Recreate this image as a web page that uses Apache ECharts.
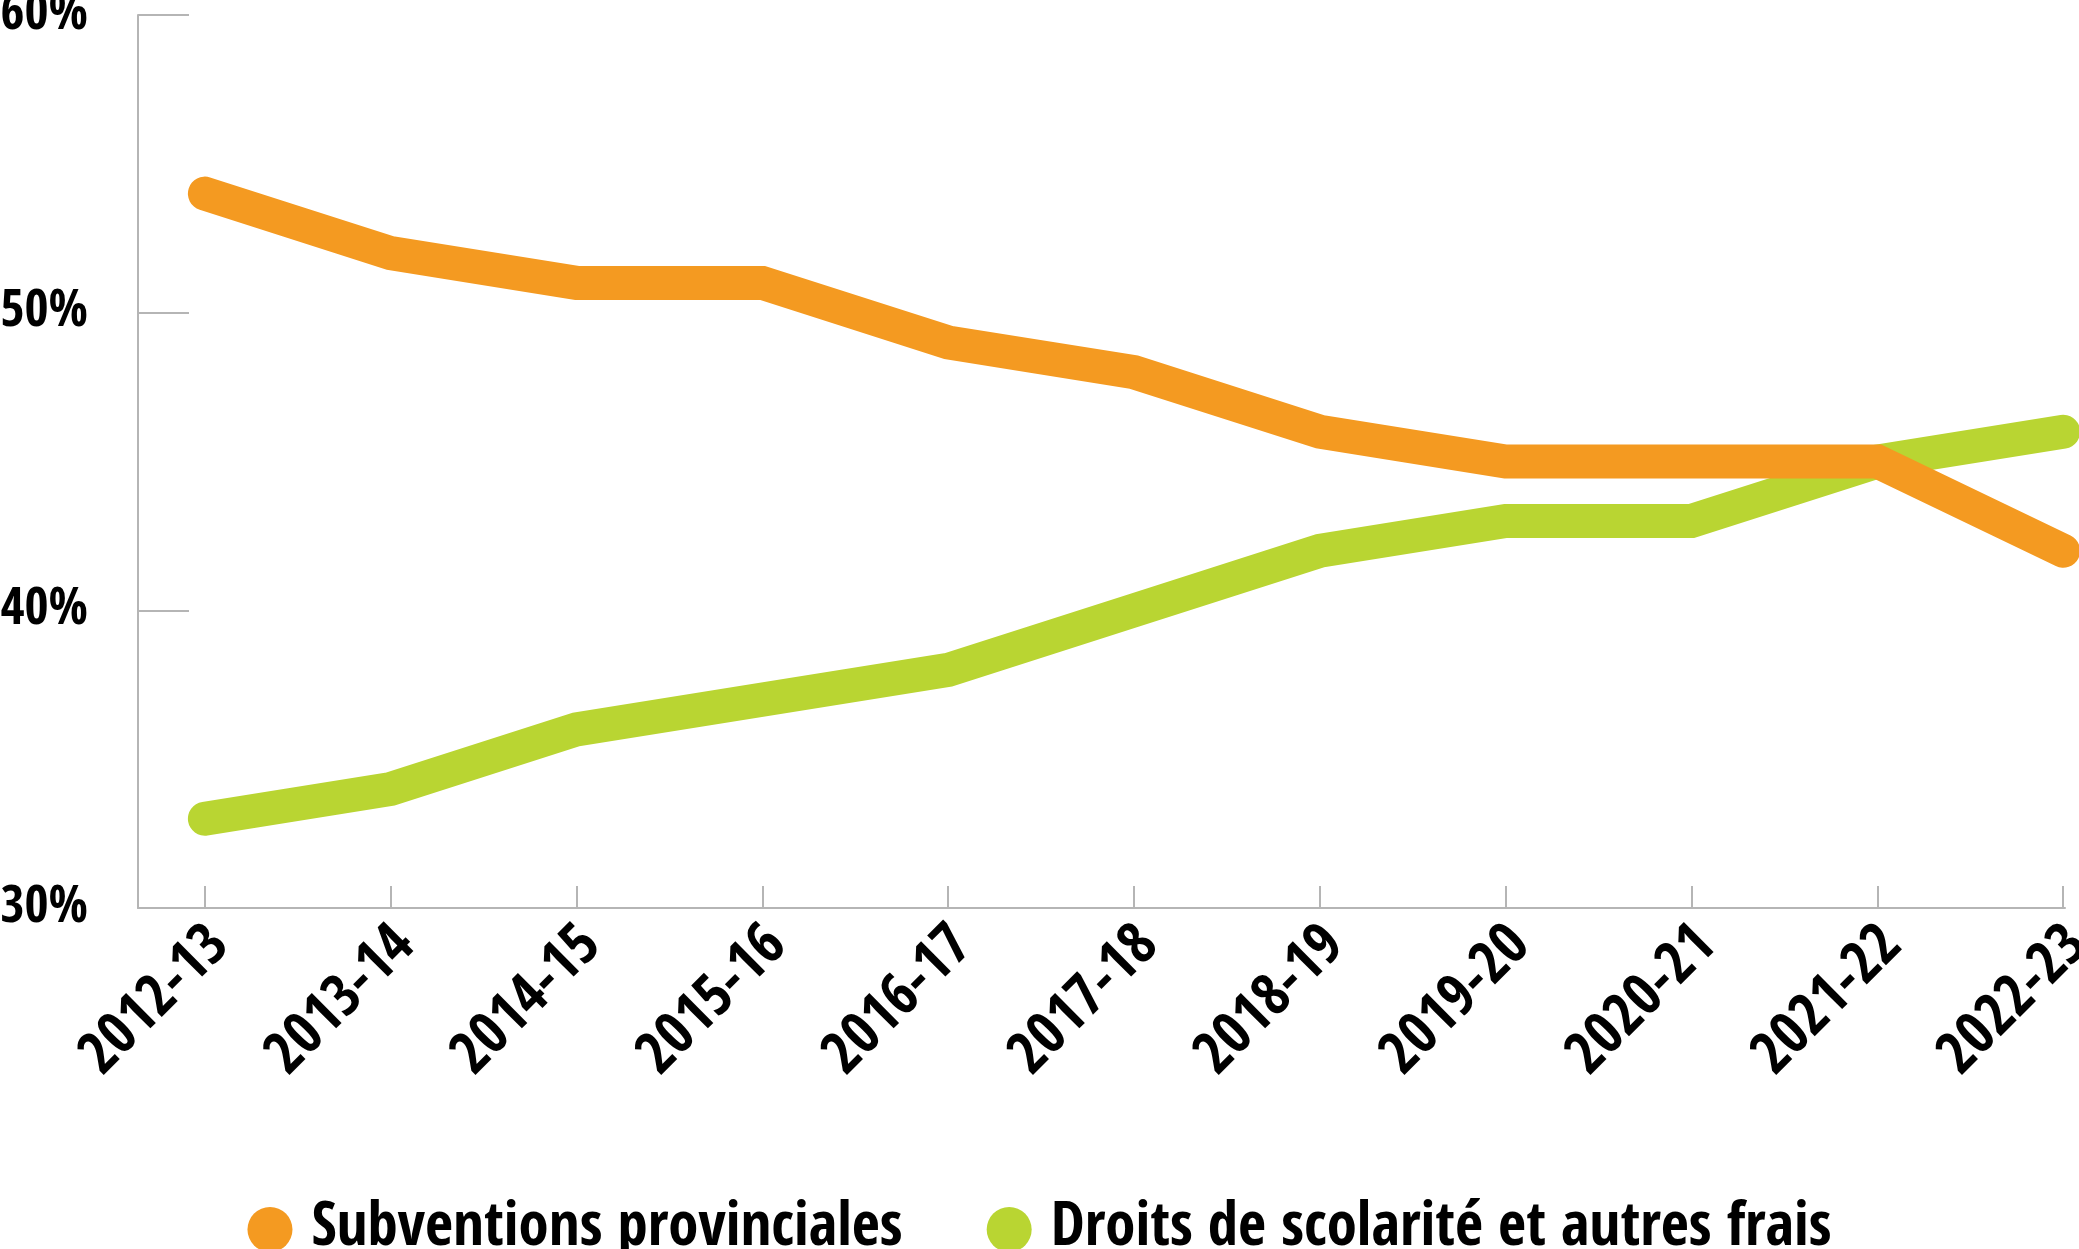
<!DOCTYPE html>
<html>
<head>
<meta charset="utf-8">
<script src="https://cdn.jsdelivr.net/npm/echarts@6/dist/echarts.min.js"></script>
<style>
  html, body { margin: 0; padding: 0; background: #fff; }
  #main { width: 2079px; height: 1249px; }
</style>
</head>
<body>
<div id="main"></div>
<script>
// years on the x axis
const categories = ['2012-13', '2013-14', '2014-15', '2015-16', '2016-17', '2017-18',
                    '2018-19', '2019-20', '2020-21', '2021-22', '2022-23'];
// share of revenue, in %
const subventions = [54, 52, 51, 51, 49, 48, 46, 45, 45, 45, 42];
const droits = [33, 34, 36, 37, 38, 40, 42, 43, 43, 45, 46];
const seriesNames = ['Subventions provinciales', 'Droits de scolarité et autres frais'];
const colors = ['#f49a21', '#b9d532'];

const tickIdx = categories.map((c, i) => i);

// pick a condensed bold face that is actually installed
const ctx = document.createElement('canvas').getContext('2d');
function hasFont(name) {
    ctx.font = 'bold 100px monospace';
    let w0 = ctx.measureText(seriesNames[0]).width;
    ctx.font = 'bold 100px "' + name + '", monospace';
    return ctx.measureText(seriesNames[0]).width !== w0;
}
const candidates = ['Noto Sans SemiCondensed', 'Noto Sans Condensed', 'Open Sans Condensed',
                    'Liberation Sans Narrow', 'Roboto Condensed', 'DejaVu Sans Condensed'];
let fontName = 'DejaVu Sans Condensed';
for (let c of candidates) {
    if (hasFont(c)) { fontName = c; break; }
}
const font = '"' + fontName + '", sans-serif';

// font size that makes a text as wide as in the original picture
function fitSize(text, width) {
    ctx.font = 'bold 100px ' + font;
    return Math.round(100 * width / ctx.measureText(text).width);
}
const legendSize = fitSize(seriesNames[0], 596);
const xLabelSize = fitSize(categories[0], 184);
const yLabelSize = fitSize('60%', 87);

let myChart = echarts.init(document.getElementById('main'));

function toPoints(values) {
    return values.map((v, i) => [i, v]);
}

let option = {
    animation: false,
    color: colors,
    grid: {
        left: 138,
        right: 14,
        top: 15,
        bottom: 341,
        outerBoundsMode: 'none',
        containLabel: false
    },
    legend: {
        left: 'center',
        top: 1194,
        icon: 'circle',
        itemWidth: 45,
        itemHeight: 45,
        itemGap: 84,
        data: seriesNames,
        textStyle: {
            fontFamily: font,
            fontWeight: 'bold',
            fontSize: legendSize,
            color: '#000',
            padding: [0, 0, 0, 14]
        }
    },
    xAxis: {
        type: 'value',
        min: -0.36,
        max: 10.01,
        axisLine: {
            show: true,
            onZero: false,
            lineStyle: { color: '#b5b5b5', width: 2 }
        },
        axisTick: {
            show: true,
            inside: true,
            length: 22,
            customValues: tickIdx,
            lineStyle: { color: '#b5b5b5', width: 2 }
        },
        axisLabel: {
            customValues: tickIdx,
            rotate: 45,
            margin: 44,
            padding: [0, -22, 0, 0],
            fontFamily: font,
            fontWeight: 'bold',
            fontSize: xLabelSize,
            color: '#000',
            formatter: function (v) {
                return categories[Math.round(v)];
            }
        },
        splitLine: { show: false }
    },
    yAxis: {
        type: 'value',
        min: 30,
        max: 60,
        interval: 10,
        axisLine: {
            show: true,
            onZero: false,
            lineStyle: { color: '#b5b5b5', width: 2 }
        },
        axisTick: {
            show: true,
            inside: true,
            length: 51,
            lineStyle: { color: '#b5b5b5', width: 2 }
        },
        axisLabel: {
            margin: 50,
            padding: [6, 0, 0, 0],
            fontFamily: font,
            fontWeight: 'bold',
            fontSize: yLabelSize,
            color: '#000',
            formatter: '{value}%'
        },
        splitLine: { show: false }
    },
    series: [
        {
            name: seriesNames[0],
            type: 'line',
            z: 3,
            symbol: 'none',
            data: toPoints(subventions),
            lineStyle: { width: 34, cap: 'round', join: 'miter', color: colors[0] }
        },
        {
            name: seriesNames[1],
            type: 'line',
            z: 2,
            symbol: 'none',
            data: toPoints(droits),
            lineStyle: { width: 34, cap: 'round', join: 'miter', color: colors[1] }
        }
    ]
};
myChart.setOption(option);
</script>
</body>
</html>
